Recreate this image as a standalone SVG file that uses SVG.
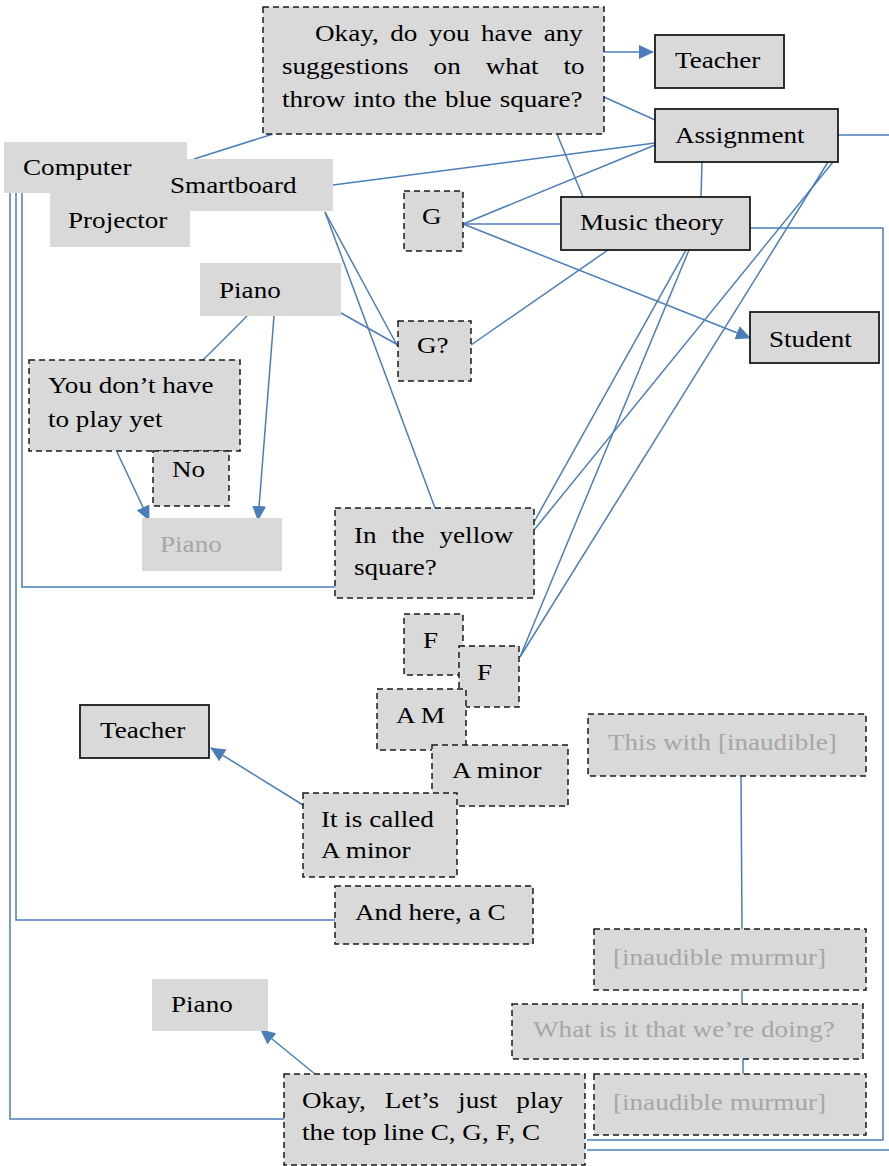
<svg xmlns="http://www.w3.org/2000/svg" width="889" height="1166" viewBox="0 0 889 1166">
<style>
.box{fill:#d9d9d9;stroke:none}
.dash{fill:#d9d9d9;stroke:#1a1a1a;stroke-width:1.5;stroke-dasharray:6 4}
.solid{fill:#d9d9d9;stroke:#1a1a1a;stroke-width:1.8}
.t{font-family:"Liberation Serif","Times New Roman",serif;font-size:24px;fill:#000}
.g{fill:#a6a6a6}
#connectors path{fill:none;stroke:#4a7ebb;stroke-width:1.5}
</style>
<defs>
<marker id="arr" viewBox="0 0 15 14" refX="14" refY="7" markerWidth="15" markerHeight="14" markerUnits="userSpaceOnUse" orient="auto">
<path d="M0,0 L15,7 L0,14 z" fill="#4a7ebb"/>
</marker>
</defs>
<g id="connectors">
<path d="M10,193 V1119 H284"/>
<path d="M16,193 V920 H335"/>
<path d="M22,193 V587 H335"/>
<path d="M273,134 L194,159"/>
<path d="M604,52 H653" marker-end="url(#arr)"/>
<path d="M604,97 L655,120"/>
<path d="M557,134 L583,197"/>
<path d="M333,185 L655,143"/>
<path d="M463,224 L655,145"/>
<path d="M463,224 H561"/>
<path d="M463,224 L750,338" marker-end="url(#arr)"/>
<path d="M702,162 L701,197"/>
<path d="M838,135 H895 V1150 H587"/>
<path d="M750,228 H883 V1140 H587"/>
<path d="M325,212 L398,347"/>
<path d="M325,212 L435,508"/>
<path d="M341,313 L398,345"/>
<path d="M247,316 L203,360"/>
<path d="M274,316 L258,520" marker-end="url(#arr)"/>
<path d="M117,452 L149,520" marker-end="url(#arr)"/>
<path d="M471,345 L608,250"/>
<path d="M686,250 L534,522"/>
<path d="M689,250 L520,657"/>
<path d="M833,162 L534,530"/>
<path d="M828,162 L520,657"/>
<path d="M741,776 L742,929"/>
<path d="M742,990 V1004"/>
<path d="M743,1059 V1074"/>
<path d="M303,805 L211,748" marker-end="url(#arr)"/>
<path d="M315,1074 L261,1030" marker-end="url(#arr)"/>
</g>
<g id="n-okay1">
<rect class="dash" x="263" y="7" width="341" height="127"/>
<text class="t" transform="translate(315 41) scale(1.13 1)" word-spacing="4.2">Okay, do you have any</text>
<text class="t" transform="translate(282 74) scale(1.13 1)" word-spacing="16.2">suggestions on what to</text>
<text class="t" transform="translate(282 107) scale(1.13 1)" word-spacing="1.2">throw into the blue square?</text>
</g>
<g id="n-teacher1">
<rect class="solid" x="655" y="35" width="129" height="53"/>
<text class="t" transform="translate(675 68) scale(1.13 1)">Teacher</text>
</g>
<g id="n-assignment">
<rect class="solid" x="655" y="109" width="183" height="53"/>
<text class="t" transform="translate(675 143) scale(1.13 1)">Assignment</text>
</g>
<g id="n-computer">
<rect class="box" x="4" y="142" width="183" height="51"/>
<text class="t" transform="translate(23 175) scale(1.13 1)">Computer</text>
</g>
<g id="n-projector">
<rect class="box" x="50" y="190" width="140" height="57"/>
<text class="t" transform="translate(68 228) scale(1.13 1)">Projector</text>
</g>
<g id="n-smartboard">
<rect class="box" x="150" y="159" width="183" height="52"/>
<text class="t" transform="translate(170 193) scale(1.13 1)">Smartboard</text>
</g>
<g id="n-g">
<rect class="dash" x="404" y="191" width="59" height="60"/>
<text class="t" transform="translate(422 224) scale(1.13 1)">G</text>
</g>
<g id="n-music">
<rect class="solid" x="561" y="197" width="189" height="53"/>
<text class="t" transform="translate(580 230) scale(1.13 1)">Music theory</text>
</g>
<g id="n-piano1">
<rect class="box" x="200" y="263" width="141" height="53"/>
<text class="t" transform="translate(219 298) scale(1.13 1)">Piano</text>
</g>
<g id="n-gq">
<rect class="dash" x="398" y="321" width="73" height="60"/>
<text class="t" transform="translate(417 353) scale(1.13 1)">G?</text>
</g>
<g id="n-student">
<rect class="solid" x="750" y="312" width="129" height="51"/>
<text class="t" transform="translate(769 347) scale(1.13 1)">Student</text>
</g>
<g id="n-youdont">
<rect class="dash" x="29" y="360" width="211" height="91"/>
<text class="t" transform="translate(48 393) scale(1.13 1)">You don’t have</text>
<text class="t" transform="translate(48 427) scale(1.13 1)">to play yet</text>
</g>
<g id="n-no">
<rect class="dash" x="153" y="451" width="76" height="55"/>
<text class="t" transform="translate(172 477) scale(1.13 1)">No</text>
</g>
<g id="n-piano2">
<rect class="box" x="142" y="518" width="140" height="53"/>
<text class="t g" transform="translate(160 552) scale(1.13 1)">Piano</text>
</g>
<g id="n-yellow">
<rect class="dash" x="335" y="508" width="199" height="90"/>
<text class="t" transform="translate(354 543) scale(1.13 1)" word-spacing="7.2">In the yellow</text>
<text class="t" transform="translate(354 575) scale(1.13 1)">square?</text>
</g>
<g id="n-f1">
<rect class="dash" x="404" y="614" width="59" height="61"/>
<text class="t" transform="translate(423 648) scale(1.13 1)">F</text>
</g>
<g id="n-f2">
<rect class="dash" x="459" y="646" width="60" height="61"/>
<text class="t" transform="translate(477 680) scale(1.13 1)">F</text>
</g>
<g id="n-am">
<rect class="dash" x="377" y="689" width="89" height="61"/>
<text class="t" transform="translate(396 723) scale(1.13 1)">A M</text>
</g>
<g id="n-aminor">
<rect class="dash" x="432" y="745" width="136" height="61"/>
<text class="t" transform="translate(452 778) scale(1.13 1)">A minor</text>
</g>
<g id="n-teacher2">
<rect class="solid" x="80" y="705" width="129" height="53"/>
<text class="t" transform="translate(100 738) scale(1.13 1)">Teacher</text>
</g>
<g id="n-called">
<rect class="dash" x="303" y="793" width="154" height="84"/>
<text class="t" transform="translate(321 827) scale(1.13 1)">It is called</text>
<text class="t" transform="translate(321 858) scale(1.13 1)">A minor</text>
</g>
<g id="n-herec">
<rect class="dash" x="335" y="886" width="198" height="58"/>
<text class="t" transform="translate(355 920) scale(1.13 1)">And here, a C</text>
</g>
<g id="n-thiswith">
<rect class="dash" x="588" y="714" width="278" height="62"/>
<text class="t g" transform="translate(608 750) scale(1.13 1)">This with [inaudible]</text>
</g>
<g id="n-murmur1">
<rect class="dash" x="594" y="929" width="272" height="61"/>
<text class="t g" transform="translate(613 965) scale(1.13 1)">[inaudible murmur]</text>
</g>
<g id="n-what">
<rect class="dash" x="512" y="1004" width="351" height="55"/>
<text class="t g" transform="translate(533 1037) scale(1.13 1)">What is it that we’re doing?</text>
</g>
<g id="n-murmur2">
<rect class="dash" x="594" y="1074" width="272" height="61"/>
<text class="t g" transform="translate(613 1110) scale(1.13 1)">[inaudible murmur]</text>
</g>
<g id="n-piano3">
<rect class="box" x="152" y="979" width="116" height="52"/>
<text class="t" transform="translate(171 1012) scale(1.13 1)">Piano</text>
</g>
<g id="n-okay2">
<rect class="dash" x="284" y="1074" width="301" height="91"/>
<text class="t" transform="translate(302 1108) scale(1.13 1)" word-spacing="10.9">Okay, Let’s just play</text>
<text class="t" transform="translate(302 1140) scale(1.13 1)">the top line C, G, F, C</text>
</g>
</svg>
